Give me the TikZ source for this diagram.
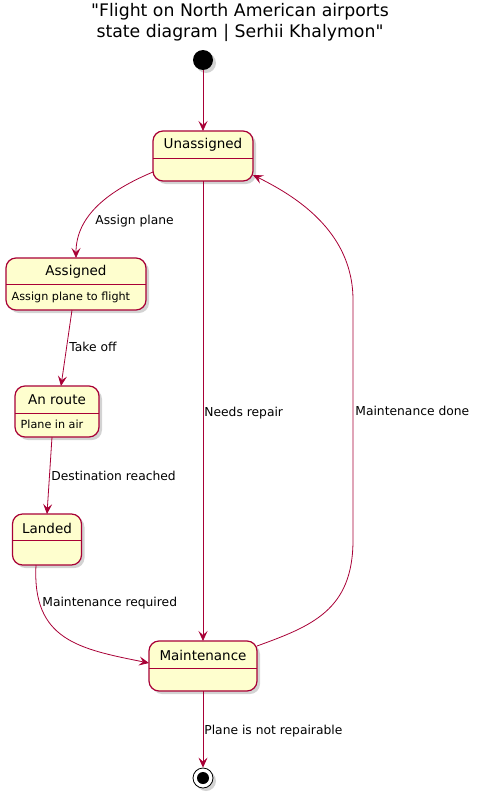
\documentclass[tikz,border=0pt]{standalone}
\usepackage{fontspec}
\setmainfont{DejaVu Sans}[Ligatures=TeXOff]
\usetikzlibrary{arrows.meta,shadows}
\definecolor{umlred}{HTML}{A80036}
\definecolor{umlfill}{HTML}{FEFECE}

\begin{document}
\begin{tikzpicture}[x=1pt, y=1pt,
  statebox/.style={draw=umlred, fill=umlfill, line width=1.2pt, rounded corners=10pt,
    minimum height=50pt, inner sep=0pt, outer sep=0pt,
    drop shadow={opacity=0.35, shadow xshift=3pt, shadow yshift=-3pt}},
  startdot/.style={circle, fill=black, minimum size=20pt, inner sep=0pt,
    drop shadow={opacity=0.35, shadow xshift=3pt, shadow yshift=-3pt}},
  stopdot/.style={circle, draw=black, line width=0.8pt, fill=white, minimum size=20pt, inner sep=0pt,
    path picture={\fill[black] (path picture bounding box.center) circle (6pt);},
    drop shadow={opacity=0.35, shadow xshift=3pt, shadow yshift=-3pt}},
  sname/.style={font=\fontsize{13.5}{16}\selectfont, inner sep=0pt},
  sdo/.style={font=\fontsize{11.2}{13}\selectfont, inner sep=0pt, anchor=west},
  divline/.style={draw=umlred, line width=1pt},
  trans/.style={draw=umlred, line width=0.8pt, -{Stealth[length=10pt, width=9pt, inset=4pt]}},
  lbl/.style={font=\fontsize{12.3}{14}\selectfont, inner sep=0pt, anchor=west,
    text height=9pt, text depth=2.5pt}]
  \useasboundingbox (0,0) rectangle (480,-798);

  \node[font=\fontsize{17.3}{21}\selectfont, align=center] (title) at (240,-22.5)
    {"Flight on North American airports\\ state diagram | Serhii Khalymon"};

  \node[startdot] (start) at (203,-60) {};
  \node[stopdot] (stop) at (203,-778) {};

  % states
  \node[statebox, minimum width=100pt] (unassigned) at (203,-156) {};
  \node[statebox, minimum width=140pt, minimum height=52pt] (assigned) at (76,-284) {};
  \node[statebox, minimum width=84pt, minimum height=51pt] (enroute) at (57,-411.5) {};
  \node[statebox, minimum width=69pt, minimum height=51pt] (landed) at (47,-539.5) {};
  \node[statebox, minimum width=108pt] (maint) at (203,-666) {};

  \foreach \n/\d in {unassigned/27, assigned/26, enroute/27, landed/26, maint/27}
    \draw[divline] ([yshift=-\d]\n.north west) -- ([yshift=-\d]\n.north east);

  \node[sname] (unassigned-t) at ([yshift=-14]unassigned.north) {Unassigned};
  \node[sname] (assigned-t) at ([yshift=-14]assigned.north) {Assigned};
  \node[sname] (enroute-t) at ([yshift=-14]enroute.north) {An route};
  \node[sname] (landed-t) at ([yshift=-14]landed.north) {Landed};
  \node[sname] (maint-t) at ([yshift=-14]maint.north) {Maintenance};
  \node[sdo] (assigned-do) at ([xshift=5.5,yshift=13]assigned.south west) {Assign plane to flight};
  \node[sdo] (enroute-do) at ([xshift=5.5,yshift=13]enroute.south west) {Plane in air};

  % transitions
  \draw[trans] (start) -- (unassigned);
  \draw[trans] ([yshift=-16]unassigned.west) .. controls +(-43,-18) and +(0,43) .. (assigned.north)
    node[lbl] (l-assign) at (95,-221) {Assign plane};
  \draw[trans] ([xshift=-4]assigned.south) -- ([xshift=4]enroute.north)
    node[lbl] (l-takeoff) at (69,-348) {Take off};
  \draw[trans] ([xshift=-5]enroute.south) -- (landed.north)
    node[lbl] (l-dest) at (51,-477) {Destination reached};
  \draw[trans] ([xshift=-11]landed.south) .. controls +(-4,-75) and +(-70,14) .. ([yshift=3]maint.west)
    node[lbl] (l-maintreq) at (42,-603) {Maintenance required};
  \draw[trans] (unassigned) -- (maint)
    node[lbl] (l-repair) at (204,-413) {Needs repair};
  \draw[trans] ([yshift=20]maint.east) .. controls +(55,20) and +(0,-70) .. (353,-540)
    -- (353,-300) .. controls +(0,70) and +(40,-20) .. ([yshift=-19]unassigned.east)
    node[lbl] (l-done) at (355,-412) {Maintenance done};
  \draw[trans] (maint) -- (stop)
    node[lbl] (l-scrap) at (204,-731) {Plane is not repairable};
\end{tikzpicture}
\end{document}
